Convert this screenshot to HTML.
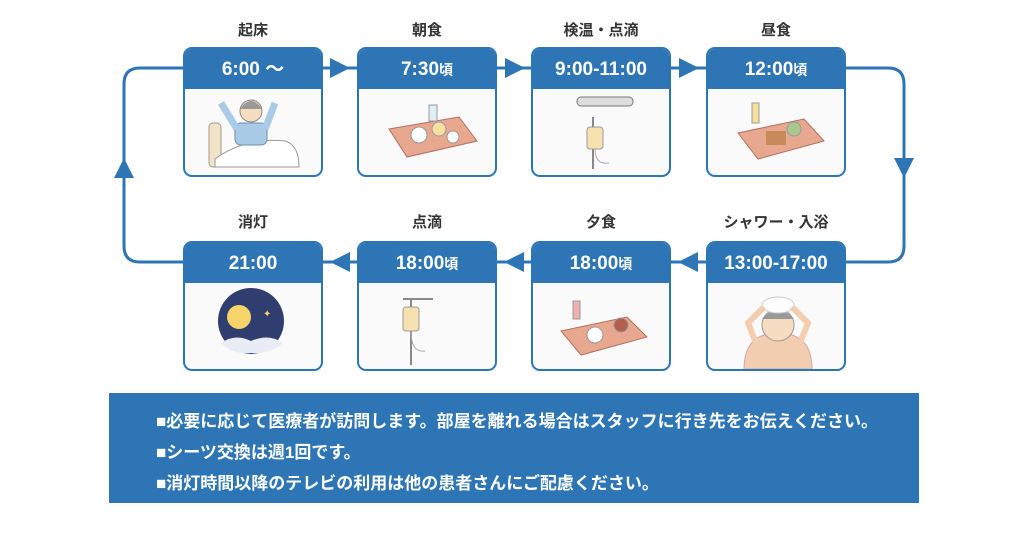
<!DOCTYPE html>
<html><head><meta charset="utf-8"><style>
body{margin:0;width:1024px;height:553px;background:#fff;position:relative;overflow:hidden;font-family:"Liberation Sans","Noto Sans CJK JP",sans-serif}
.card{position:absolute;width:136px;height:126px;border:2px solid #2e75b6;border-radius:9px;background:#fafafa;overflow:hidden;box-sizing:content-box}
.card .h{height:40px;background:#2e75b6;color:#fff;font-weight:bold;font-size:19px;text-align:center;line-height:42px}
.card .h small{font-size:14px}
.lab{position:absolute;width:140px;text-align:center;font-weight:bold;font-size:15px;color:#333}
.note{position:absolute;left:109px;top:393px;width:810px;height:110px;background:#2e75b6;color:#fff;font-weight:bold;font-size:17px}
.note div{position:absolute;left:47px;white-space:nowrap}
svg.bg{position:absolute;left:0;top:0}
</style></head><body>
<svg class="bg" width="1024" height="553">
<g fill="none" stroke="#2e75b6" stroke-width="3">
<path d="M183 68 H140 Q124 68 124 84 V246 Q124 262 140 262 H183"/>
<path d="M845 68 H888 Q904 68 904 84 V246 Q904 262 888 262 H845"/>
<path d="M323 68 H358 M496 68 H531 M670 68 H706"/>
<path d="M357 262 H323 M531 262 H496 M706 262 H670"/>
</g>
<g fill="#2e75b6">
<polygon points="330,58 350,68 330,78"/><polygon points="505,58 525,68 505,78"/><polygon points="679,58 699,68 679,78"/>
<polygon points="350,252 330,262 350,272"/><polygon points="524,252 504,262 524,272"/><polygon points="698,252 678,262 698,272"/>
<polygon points="114,178 124,158 134,178"/><polygon points="894,158 904,178 914,158"/>
</g>
</svg>
<div class="lab" style="left:183px;top:19px">起床</div>
<div class="lab" style="left:357px;top:19px">朝食</div>
<div class="lab" style="left:531px;top:19px">検温・点滴</div>
<div class="lab" style="left:706px;top:19px">昼食</div>
<div class="lab" style="left:183px;top:211px">消灯</div>
<div class="lab" style="left:357px;top:211px">点滴</div>
<div class="lab" style="left:531px;top:211px">夕食</div>
<div class="lab" style="left:700px;top:211px;width:152px">シャワー・入浴</div>

<div class="card" style="left:183px;top:47px"><div class="h">6:00 ～</div>
<svg width="136" height="86"><rect x="24" y="34" width="12" height="44" rx="4" fill="#efe3c8" stroke="#a89a80"/><path d="M30 70 Q60 48 100 52 Q114 56 114 78 H30Z" fill="#fff" stroke="#999"/><circle cx="66" cy="22" r="11" fill="#f6dcc0" stroke="#888"/><path d="M55 20 Q66 4 77 20" fill="#999"/><rect x="50" y="34" width="32" height="22" rx="6" fill="#a9cbe8" stroke="#6b8fb0"/><path d="M52 40 L36 14 M80 40 L90 14" stroke="#a9cbe8" stroke-width="7"/></svg></div>
<div class="card" style="left:357px;top:47px"><div class="h">7:30<small>頃</small></div>
<svg width="136" height="86"><polygon points="30,40 100,28 118,52 48,68" fill="#e8a890" stroke="#b07060"/><circle cx="60" cy="46" r="8" fill="#fff" stroke="#999"/><circle cx="80" cy="40" r="7" fill="#f5e0a0" stroke="#999"/><circle cx="94" cy="48" r="6" fill="#fff" stroke="#999"/><rect x="70" y="16" width="8" height="16" fill="#e0eef5" stroke="#999"/></svg></div>
<div class="card" style="left:531px;top:47px"><div class="h">9:00-11:00</div>
<svg width="136" height="86"><rect x="44" y="8" width="56" height="9" rx="4" fill="#ddd" stroke="#777"/><line x1="60" y1="28" x2="60" y2="80" stroke="#888" stroke-width="2"/><rect x="54" y="38" width="16" height="22" rx="3" fill="#f5e2b0" stroke="#999"/><path d="M62 60 Q62 76 76 74" stroke="#aaa" fill="none"/></svg></div>
<div class="card" style="left:706px;top:47px"><div class="h">12:00<small>頃</small></div>
<svg width="136" height="86"><polygon points="30,44 96,30 116,52 50,70" fill="#e8a890" stroke="#b07060"/><rect x="58" y="42" width="20" height="14" fill="#c98a5a"/><circle cx="86" cy="40" r="7" fill="#a8c890" stroke="#999"/><rect x="44" y="14" width="7" height="20" fill="#f5e0a0" stroke="#999"/></svg></div>

<div class="card" style="left:183px;top:241px"><div class="h">21:00</div>
<svg width="136" height="86"><circle cx="66" cy="38" r="33" fill="#2f3e6e"/><circle cx="54" cy="34" r="12" fill="#f7d46a"/><path d="M36 60 Q50 50 66 58 Q84 50 98 60 Q84 72 66 70 Q48 72 36 60Z" fill="#e8ecf4"/><text x="78" y="34" fill="#f7d46a" font-size="10">✦</text></svg></div>
<div class="card" style="left:357px;top:241px"><div class="h">18:00<small>頃</small></div>
<svg width="136" height="86"><line x1="52" y1="16" x2="52" y2="82" stroke="#888" stroke-width="2"/><line x1="44" y1="16" x2="74" y2="16" stroke="#888" stroke-width="2"/><rect x="44" y="24" width="16" height="24" rx="3" fill="#f5e2b0" stroke="#999"/><path d="M52 48 Q52 70 66 68" stroke="#aaa" fill="none"/></svg></div>
<div class="card" style="left:531px;top:241px"><div class="h">18:00<small>頃</small></div>
<svg width="136" height="86"><polygon points="28,48 94,34 114,54 48,72" fill="#e8a890" stroke="#b07060"/><circle cx="62" cy="52" r="8" fill="#fff" stroke="#999"/><circle cx="88" cy="42" r="7" fill="#b36050" stroke="#999"/><rect x="40" y="18" width="7" height="18" fill="#f0b0b0" stroke="#999"/></svg></div>
<div class="card" style="left:706px;top:241px"><div class="h">13:00-17:00</div>
<svg width="136" height="86"><path d="M36 86 Q36 50 70 50 Q104 50 104 86Z" fill="#f3cdb0" stroke="#caa"/><circle cx="70" cy="42" r="16" fill="#f6dcc0" stroke="#999"/><path d="M54 36 Q70 18 86 36" fill="#999"/><ellipse cx="70" cy="22" rx="16" ry="8" fill="#fff" stroke="#ccc"/><path d="M48 60 L40 40 L56 24 M92 60 L100 40 L84 24" stroke="#f3cdb0" stroke-width="6" fill="none"/></svg></div>

<div class="note">
<div style="top:14px">■必要に応じて医療者が訪問します。部屋を離れる場合はスタッフに行き先をお伝えください。</div>
<div style="top:45px">■シーツ交換は週1回です。</div>
<div style="top:76px">■消灯時間以降のテレビの利用は他の患者さんにご配慮ください。</div>
</div>
</body></html>
